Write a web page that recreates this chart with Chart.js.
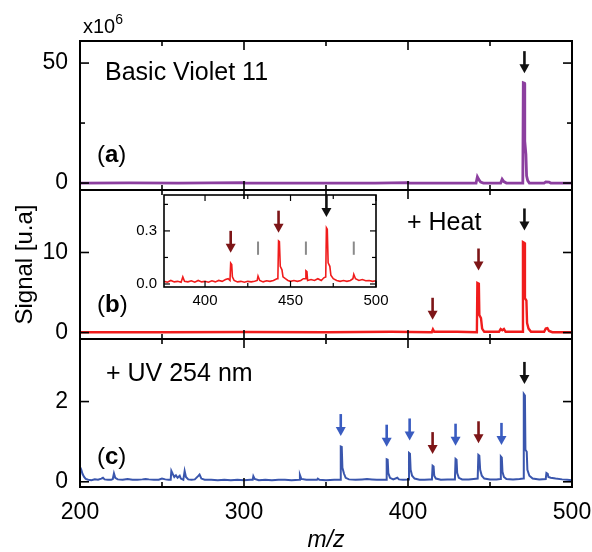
<!DOCTYPE html>
<html>
<head>
<meta charset="utf-8">
<script src="https://cdn.jsdelivr.net/npm/chart.js@4.4.0/dist/chart.umd.min.js"></script>
<style>
  html, body { margin: 0; padding: 0; background: #fff; }
  #wrap { position: relative; width: 592px; height: 552px; }
  #main { position: absolute; left: 0; top: 0; }
  #inset { position: absolute; left: 110px; top: 185px; }
</style>
</head>
<body>
<div id="wrap">
  <canvas id="main" width="592" height="552"></canvas>
  <canvas id="inset" width="280" height="130"></canvas>
</div>
<script>
// ---- data: [m/z, signal] ----
const violetSpectrum = [
  [200, 0], [230, 0.1], [260, 0], [300, 0.2], [301, 0], [340, 0], [380, 0], [400, 0.2], [401, 0],
  [441.5, 0], [442.3, 2.6], [443.2, 1.4], [444.3, 0.4], [446, 0], [456.5, 0], [457.4, 1.6], [458.4, 0.6], [460, 0],
  [470, 0], [470.3, 41.8], [471, 41.6], [471.2, 17.5], [471.9, 12], [472.3, 3], [473, 1], [474, 0],
  [483, 0], [484, 0.5], [486, 0.4], [487, 0], [500, 0]
];

const heatSpectrum = [
  [200, 0.05], [250, 0.05], [300, 0.08], [350, 0.05], [390, 0.1], [414.5, 0.05], [415.2, 0.4], [416, 0.1],
  [430, 0.1], [442, 0.05], [442.3, 6.2], [443.2, 6.1], [443.5, 2.2], [444.5, 1.8], [445.2, 0.5], [446.5, 0.1],
  [455.5, 0.1], [456.5, 0.45], [457.5, 0.3], [458.5, 0.45], [459.5, 0.1],
  [469.8, 0.1], [470.1, 11.3], [471, 11.2], [471.3, 4.3], [472.2, 4], [472.6, 1.2], [473.5, 0.5], [475, 0.1],
  [483, 0.1], [484, 0.5], [485, 0.55], [486, 0.2], [488, 0.05], [500, 0.05]
];

const uvSpectrum = [
  [200, 0.37], [200.8, 0.3], [201.5, 0.2], [202.5, 0.12], [203.5, 0.07], [205, 0.05], [207, 0.04], [209, 0.06],
  [211, 0.05], [213, 0.08], [214, 0.1], [215, 0.06], [217, 0.05], [219, 0.05], [220, 0.07], [220.7, 0.21],
  [221.5, 0.1], [223, 0.06], [226, 0.05], [229, 0.07], [232, 0.05], [235, 0.05], [238, 0.06], [240, 0.07],
  [242, 0.06], [245, 0.05], [248, 0.05], [250, 0.08], [252, 0.06], [254, 0.05], [255.3, 0.05], [255.7, 0.27],
  [256.5, 0.2], [257.5, 0.12], [258.5, 0.16], [259.5, 0.1], [260.8, 0.15], [261.5, 0.08], [263, 0.05],
  [263.8, 0.27], [264.6, 0.12], [266, 0.06], [268, 0.05], [270, 0.06], [272, 0.14], [272.9, 0.18], [274, 0.08],
  [276, 0.05], [280, 0.05], [284, 0.04], [288, 0.05], [292, 0.04], [296, 0.05], [300, 0.04], [304, 0.05],
  [305.3, 0.05], [305.7, 0.14], [306.5, 0.07], [309, 0.04], [313, 0.05], [317, 0.04], [321, 0.05], [325, 0.05],
  [329, 0.04], [333.6, 0.05], [334.1, 0.17], [335, 0.07], [338, 0.05], [341, 0.05], [344.5, 0.05], [345, 0.08],
  [346, 0.05], [350, 0.04], [355, 0.05], [358.6, 0.05], [359, 0.88], [359.6, 0.87], [360, 0.35], [361, 0.2],
  [362, 0.1], [364, 0.06], [368, 0.05], [372, 0.06], [375, 0.07], [378, 0.06], [381, 0.05], [384, 0.05],
  [386.6, 0.05], [387, 0.56], [387.6, 0.55], [388, 0.22], [389, 0.1], [391, 0.06], [393.5, 0.1], [394.5, 0.06],
  [397, 0.05], [400.2, 0.06], [400.6, 0.72], [401.2, 0.7], [401.6, 0.3], [402.5, 0.15], [404, 0.08], [407, 0.05],
  [410, 0.05], [413, 0.06], [414.6, 0.06], [415, 0.4], [415.6, 0.38], [416, 0.15], [417, 0.08], [420, 0.05],
  [424, 0.06], [428.6, 0.06], [429, 0.57], [429.6, 0.55], [430, 0.22], [431, 0.1], [433, 0.06], [437, 0.06],
  [440, 0.07], [442.5, 0.08], [442.9, 0.67], [443.5, 0.65], [444, 0.3], [445, 0.15], [446.5, 0.08], [450, 0.06],
  [454, 0.06], [456.2, 0.07], [456.6, 0.63], [457.2, 0.6], [457.6, 0.25], [458.5, 0.12], [460, 0.07], [464, 0.06],
  [468, 0.07], [470.3, 0.08], [470.6, 2.19], [471.3, 2.15], [471.6, 0.8], [472.4, 0.75], [472.8, 0.3], [474, 0.15],
  [476, 0.08], [480, 0.06], [484, 0.07], [484.4, 0.22], [485.2, 0.2], [485.6, 0.12], [487, 0.1], [490, 0.08],
  [494, 0.06], [497, 0.05], [500, 0.04]
];

// inset: zoom of the heated sample
const insetSpectrum = [
  [376, 0.015], [378, 0.01], [380, 0.02], [382, 0.012], [384, 0.015], [386, 0.01], [387, 0.04], [388, 0.015],
  [390, 0.012], [392, 0.018], [394, 0.01], [396, 0.02], [398, 0.012], [400, 0.015], [402, 0.01], [404, 0.018],
  [406, 0.012], [408, 0.02], [410, 0.015], [412, 0.025], [413.5, 0.03], [414.6, 0.02], [415, 0.118], [415.6, 0.11],
  [416, 0.04], [417, 0.02], [419, 0.012], [421, 0.015], [423, 0.01], [425, 0.015], [427, 0.012], [429, 0.015],
  [430.5, 0.02], [431, 0.045], [432, 0.02], [434, 0.012], [436, 0.018], [438, 0.015], [440, 0.02], [442, 0.03],
  [442.6, 0.03], [443, 0.244], [443.5, 0.24], [444, 0.1], [445, 0.08], [445.6, 0.04], [447, 0.03], [448.5, 0.02],
  [450, 0.015], [452, 0.02], [454, 0.015], [456, 0.02], [457.5, 0.03], [458.6, 0.03], [459, 0.075], [459.6, 0.07],
  [460, 0.02], [462, 0.025], [464, 0.02], [466, 0.03], [468, 0.02], [469.5, 0.035], [470.6, 0.04], [471, 0.318],
  [471.5, 0.31], [472, 0.12], [473, 0.1], [473.6, 0.05], [475, 0.03], [477, 0.02], [479, 0.015], [481, 0.02],
  [483, 0.015], [485, 0.02], [486.5, 0.03], [487, 0.055], [488, 0.03], [490, 0.02], [492, 0.025], [494, 0.018],
  [496, 0.02], [498, 0.015], [500, 0.018]
];

// arrows: [m/z, tip value, kind]
const arrowsA = [[471, 45.8, 'main']];
const arrowsB = [[415, 1.6, 'loss'], [443, 7.75, 'loss'], [471, 12.75, 'main']];
const arrowsC = [[359, 1.14, 'uv'], [387, 0.875, 'uv'], [401, 1.03, 'uv'], [415, 0.69, 'loss'],
                 [429, 0.9, 'uv'], [443, 0.96, 'loss'], [457, 0.92, 'uv'], [471, 2.44, 'main']];
const arrowsInset = [[415, 0.176, 'loss'], [443, 0.29, 'loss'], [471, 0.379, 'main']];
const insetMarks = [431, 459, 487];
const insetMarkRange = [0.165, 0.24];

// ticks
const mzTicks = [200, 250, 300, 350, 400, 450, 500];
const mzLabeled = [200, 300, 400, 500];
const aTicks = [0, 25, 50];
const aLabeled = [0, 50];
const bTicks = [0, 5, 10, 15];
const bLabeled = [0, 10];
const cTicks = [0, 1, 2, 3];
const cLabeled = [0, 2];
const insetXTicks = [400, 425, 450, 475, 500];
const insetXLabeled = [400, 450, 500];
const insetYTicks = [0, 0.15, 0.3, 0.45];
const insetYLabeled = [0, 0.3];

// ---- styling ----
const FONT = "'Liberation Sans', Arial, sans-serif";
const arrowColors = { main: '#111111', loss: '#7d1517', uv: '#3a5cc0' };

function toXY(pairs) { return pairs.map(p => ({ x: p[0], y: p[1] })); }
function fixedTicks(values) { return scale => { scale.ticks = values.map(v => ({ value: v })); }; }
function labelOnly(labeled, fmt) {
  return v => labeled.includes(v) ? (fmt ? fmt(v) : String(v)) : '';
}

function drawLine(ctx, x1, y1, x2, y2) {
  ctx.beginPath(); ctx.moveTo(x1, y1); ctx.lineTo(x2, y2); ctx.stroke();
}

function drawArrow(ctx, x, yTip, color) {
  const len = 22, headH = 9, headW = 10;
  ctx.save();
  ctx.strokeStyle = color; ctx.fillStyle = color; ctx.lineWidth = 2.6;
  drawLine(ctx, x, yTip - len, x, yTip - headH + 1);
  ctx.beginPath();
  ctx.moveTo(x - headW / 2, yTip - headH);
  ctx.lineTo(x + headW / 2, yTip - headH);
  ctx.lineTo(x, yTip);
  ctx.closePath();
  ctx.fill();
  ctx.restore();
}

function panelLabel(ctx, letter, x, y) {
  ctx.textBaseline = 'middle';
  ctx.textAlign = 'left';
  ctx.font = `24px ${FONT}`;
  ctx.fillText('(', x, y);
  let w = ctx.measureText('(').width;
  ctx.font = `bold 24px ${FONT}`;
  ctx.fillText(letter, x + w, y);
  w += ctx.measureText(letter).width;
  ctx.font = `24px ${FONT}`;
  ctx.fillText(')', x + w, y);
}

const panelDecor = {
  id: 'panelDecor',
  afterDatasetsDraw(chart) {
    const { ctx, chartArea, scales } = chart;
    const x = scales.x;
    ctx.save();
    ctx.strokeStyle = '#000';
    ['ya', 'yb', 'yc'].forEach(id => {
      const y = scales[id];
      ctx.lineWidth = 2;
      ctx.strokeRect(chartArea.left, y.top, chartArea.right - chartArea.left, y.bottom - y.top);
      ctx.lineWidth = 1.6;
      y.ticks.forEach(t => {
        const py = y.getPixelForValue(t.value);
        const len = t.label !== '' ? 9 : 5;
        drawLine(ctx, chartArea.left, py, chartArea.left + len, py);
        drawLine(ctx, chartArea.right, py, chartArea.right - len, py);
      });
      x.ticks.forEach(t => {
        const px = x.getPixelForValue(t.value);
        const len = t.label !== '' ? 9 : 5;
        drawLine(ctx, px, y.top, px, y.top + len);
        drawLine(ctx, px, y.bottom, px, y.bottom - len);
      });
    });

    // arrows
    [['ya', arrowsA], ['yb', arrowsB], ['yc', arrowsC]].forEach(([id, list]) => {
      const y = scales[id];
      list.forEach(a => drawArrow(ctx, x.getPixelForValue(a[0]), y.getPixelForValue(a[1]), arrowColors[a[2]]));
    });

    // texts
    const ya = scales.ya, yb = scales.yb, yc = scales.yc;
    ctx.fillStyle = '#000';
    ctx.textBaseline = 'middle';
    ctx.textAlign = 'left';
    ctx.font = `25px ${FONT}`;
    ctx.fillText('Basic Violet 11', chartArea.left + 25, ya.top + 32);
    ctx.fillText('+ Heat', chartArea.left + 327, yb.top + 33);
    ctx.fillText('+ UV 254 nm', chartArea.left + 26, yc.top + 35);
    panelLabel(ctx, 'a', chartArea.left + 17, ya.bottom - 35);
    panelLabel(ctx, 'b', chartArea.left + 17, yb.bottom - 34);
    panelLabel(ctx, 'c', chartArea.left + 17, yc.bottom - 30);

    // x10^6 multiplier
    ctx.textBaseline = 'alphabetic';
    ctx.font = `20px ${FONT}`;
    ctx.fillText('x10', chartArea.left + 3, ya.top - 8);
    const w = ctx.measureText('x10').width;
    ctx.font = `14px ${FONT}`;
    ctx.fillText('6', chartArea.left + 3 + w, ya.top - 17);
    ctx.restore();
  }
};

function yPanel(weight, min, max, ticks, labeled) {
  return {
    type: 'linear', position: 'left', stack: 'panels', stackWeight: weight,
    min: min, max: max,
    afterBuildTicks: fixedTicks(ticks),
    afterFit: s => { s.width = 80; s.paddingTop = 0; s.paddingBottom = 0; },
    grid: { display: false, drawTicks: false },
    border: { display: false },
    ticks: { padding: 12, color: '#000', font: { family: FONT, size: 23 }, callback: labelOnly(labeled) }
  };
}

const scaleC = yPanel(148, -0.13, 3.56, cTicks, cLabeled);
const scaleB = yPanel(149, -0.8, 17.8, bTicks, bLabeled);
scaleB.title = { display: true, text: 'Signal [u.a]', color: '#000', font: { family: FONT, size: 24 }, padding: { top: 11, bottom: 0 } };
const scaleA = yPanel(149, -2.9, 59.2, aTicks, aLabeled);

new Chart(document.getElementById('main'), {
  type: 'line',
  data: {
    datasets: [
      { label: 'UV 254 nm', data: toXY(uvSpectrum), yAxisID: 'yc', borderColor: '#3a56ad', borderWidth: 2 },
      { label: 'Heat', data: toXY(heatSpectrum), yAxisID: 'yb', borderColor: '#f01c1c', borderWidth: 2.4 },
      { label: 'Basic Violet 11', data: toXY(violetSpectrum), yAxisID: 'ya', borderColor: '#8c3f9f', borderWidth: 2.8 }
    ]
  },
  options: {
    responsive: false,
    animation: false,
    devicePixelRatio: 1,
    elements: { point: { radius: 0 }, line: { tension: 0, fill: false } },
    layout: { padding: { top: 41, right: 20, bottom: 0, left: 0 } },
    plugins: { legend: { display: false }, tooltip: { enabled: false } },
    scales: {
      x: {
        type: 'linear', position: 'bottom', min: 200, max: 500,
        afterBuildTicks: fixedTicks(mzTicks),
        afterFit: s => { s.height = 65; s.paddingLeft = 0; s.paddingRight = 0; },
        grid: { display: false, drawTicks: false },
        border: { display: false },
        ticks: { padding: 12, color: '#000', maxRotation: 0, autoSkip: false, font: { family: FONT, size: 23 }, callback: labelOnly(mzLabeled) },
        title: { display: true, text: 'm/z', color: '#000', font: { family: FONT, size: 23, style: 'italic', lineHeight: 1 }, padding: { top: 0, bottom: 0 } }
      },
      yc: scaleC,
      yb: scaleB,
      ya: scaleA
    }
  },
  plugins: [panelDecor]
});

// ---- inset ----
const insetDecor = {
  id: 'insetDecor',
  afterDatasetsDraw(chart) {
    const { ctx, chartArea, scales } = chart;
    const x = scales.x, y = scales.y;
    ctx.save();
    ctx.strokeStyle = '#000';
    ctx.lineWidth = 1.6;
    ctx.strokeRect(chartArea.left, chartArea.top, chartArea.right - chartArea.left, chartArea.bottom - chartArea.top);
    ctx.lineWidth = 1.2;
    y.ticks.forEach(t => {
      const py = y.getPixelForValue(t.value);
      const len = t.label !== '' ? 6 : 4;
      drawLine(ctx, chartArea.left, py, chartArea.left + len, py);
      drawLine(ctx, chartArea.right, py, chartArea.right - len, py);
    });
    x.ticks.forEach(t => {
      const px = x.getPixelForValue(t.value);
      const len = t.label !== '' ? 6 : 4;
      drawLine(ctx, px, chartArea.top, px, chartArea.top + len);
      drawLine(ctx, px, chartArea.bottom, px, chartArea.bottom - len);
    });
    ctx.strokeStyle = '#8a8a8a';
    ctx.lineWidth = 2;
    insetMarks.forEach(m => {
      const px = x.getPixelForValue(m);
      drawLine(ctx, px, y.getPixelForValue(insetMarkRange[0]), px, y.getPixelForValue(insetMarkRange[1]));
    });
    arrowsInset.forEach(a => drawArrow(ctx, x.getPixelForValue(a[0]), y.getPixelForValue(a[1]), arrowColors[a[2]]));
    ctx.restore();
  }
};

new Chart(document.getElementById('inset'), {
  type: 'line',
  data: {
    datasets: [{ label: 'Heat (zoom)', data: toXY(insetSpectrum), borderColor: '#f01c1c', borderWidth: 1.6 }]
  },
  options: {
    responsive: false,
    animation: false,
    devicePixelRatio: 1,
    elements: { point: { radius: 0 }, line: { tension: 0, fill: false } },
    layout: { padding: { top: 10, right: 14, bottom: 0, left: 0 } },
    plugins: { legend: { display: false }, tooltip: { enabled: false } },
    scales: {
      x: {
        type: 'linear', min: 376, max: 500,
        afterBuildTicks: fixedTicks(insetXTicks),
        afterFit: s => { s.height = 28; s.paddingLeft = 0; s.paddingRight = 0; },
        grid: { display: false, drawTicks: false }, border: { display: false },
        ticks: { padding: 5, color: '#000', maxRotation: 0, autoSkip: false, font: { family: FONT, size: 15 }, callback: labelOnly(insetXLabeled) }
      },
      y: {
        type: 'linear', min: -0.017, max: 0.503,
        afterBuildTicks: fixedTicks(insetYTicks),
        afterFit: s => { s.width = 54; s.paddingTop = 0; s.paddingBottom = 0; },
        grid: { display: false, drawTicks: false }, border: { display: false },
        ticks: { padding: 7, color: '#000', font: { family: FONT, size: 15 }, callback: labelOnly(insetYLabeled, v => v.toFixed(1)) }
      }
    }
  },
  plugins: [insetDecor]
});
</script>
</body>
</html>
